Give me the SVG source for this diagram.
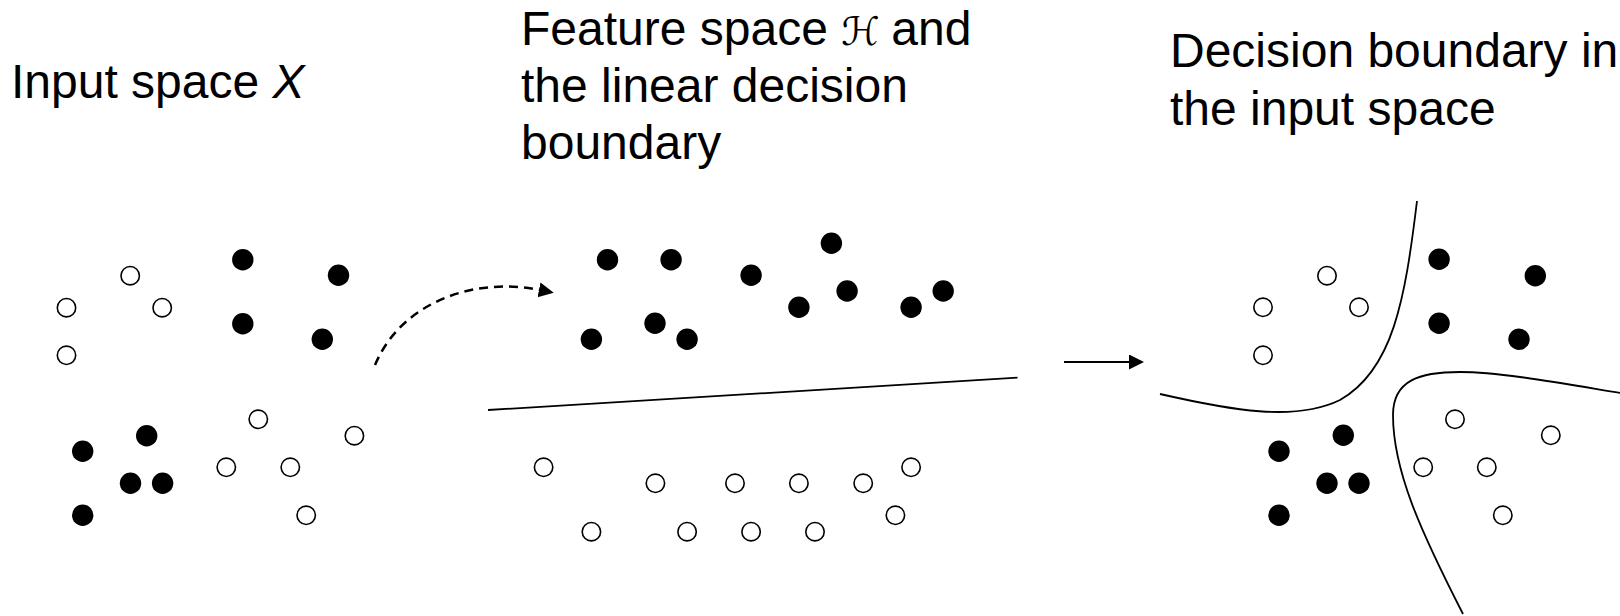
<svg xmlns="http://www.w3.org/2000/svg" width="1620" height="616" viewBox="0 0 1620 616">
  <style>
    .lbl { font-family: "Liberation Sans", Arial, sans-serif; font-size: 48px; fill: #000; }
    .o { fill: #fff; stroke: #000; stroke-width: 1.6; }
    .f { fill: #000; }
    .bnd { fill: none; stroke: #000; stroke-width: 1.8; }
    .conn { fill: none; stroke: #000; }
  </style>
  <defs>
    <marker id="ah" markerWidth="16" markerHeight="16" refX="1" refY="7.5" orient="auto" markerUnits="userSpaceOnUse" viewBox="0 0 16 16">
      <path d="M0,0 L15,7.5 L0,15 Z" fill="#000"/>
    </marker>
  </defs>
  <rect width="1620" height="616" fill="#fff"/>

  <g id="label-input">
    <text class="lbl" x="11" y="98">Input space <tspan font-style="italic">X</tspan></text>
  </g>
  <g id="label-feature">
    <text class="lbl" x="521" y="45">Feature space <tspan font-family="'DejaVu Sans', 'DejaVu Serif', sans-serif" font-style="italic" font-size="39">ℋ</tspan><tspan x="878"> and</tspan></text>
    <text class="lbl" x="521" y="102">the linear decision</text>
    <text class="lbl" x="521" y="159">boundary</text>
  </g>
  <g id="label-decision">
    <text class="lbl" x="1170" y="67">Decision boundary in</text>
    <text class="lbl" x="1170" y="125">the input space</text>
  </g>

  <g id="input-space">
    <circle class="o" cx="130.2" cy="275.7" r="9.2"/>
    <circle class="o" cx="66.5" cy="307.7" r="9.2"/>
    <circle class="o" cx="162.2" cy="307.7" r="9.2"/>
    <circle class="o" cx="66.5" cy="355.3" r="9.2"/>
    <circle class="o" cx="258.3" cy="419.3" r="9.2"/>
    <circle class="o" cx="354.4" cy="435.7" r="9.2"/>
    <circle class="o" cx="226.3" cy="467.3" r="9.2"/>
    <circle class="o" cx="290.3" cy="467.3" r="9.2"/>
    <circle class="o" cx="306.2" cy="515.3" r="9.2"/>
    <circle class="f" cx="242.8" cy="259.7" r="10.7"/>
    <circle class="f" cx="338.5" cy="275.3" r="10.7"/>
    <circle class="f" cx="242.8" cy="323.7" r="10.7"/>
    <circle class="f" cx="322.3" cy="339.3" r="10.7"/>
    <circle class="f" cx="146.7" cy="435.7" r="10.7"/>
    <circle class="f" cx="82.7" cy="451.3" r="10.7"/>
    <circle class="f" cx="130.5" cy="483.3" r="10.7"/>
    <circle class="f" cx="162.6" cy="483.3" r="10.7"/>
    <circle class="f" cx="82.7" cy="515.3" r="10.7"/>
  </g>

  <g id="feature-space">
    <circle class="f" cx="607.5" cy="259.7" r="10.7"/>
    <circle class="f" cx="671.1" cy="259.7" r="10.7"/>
    <circle class="f" cx="831.4" cy="243.3" r="10.7"/>
    <circle class="f" cx="751.1" cy="275.3" r="10.7"/>
    <circle class="f" cx="847.1" cy="291" r="10.7"/>
    <circle class="f" cx="943.2" cy="291" r="10.7"/>
    <circle class="f" cx="798.9" cy="307.3" r="10.7"/>
    <circle class="f" cx="911.1" cy="307.3" r="10.7"/>
    <circle class="f" cx="591.4" cy="339.3" r="10.7"/>
    <circle class="f" cx="655" cy="323.3" r="10.7"/>
    <circle class="f" cx="687.1" cy="339.3" r="10.7"/>
    <circle class="o" cx="543.6" cy="467.3" r="9.2"/>
    <circle class="o" cx="655.4" cy="483.3" r="9.2"/>
    <circle class="o" cx="735" cy="483.3" r="9.2"/>
    <circle class="o" cx="798.9" cy="483.3" r="9.2"/>
    <circle class="o" cx="863.2" cy="483.3" r="9.2"/>
    <circle class="o" cx="911.1" cy="467.3" r="9.2"/>
    <circle class="o" cx="895.4" cy="515.3" r="9.2"/>
    <circle class="o" cx="591.4" cy="531.7" r="9.2"/>
    <circle class="o" cx="687.1" cy="531.7" r="9.2"/>
    <circle class="o" cx="751.1" cy="531.7" r="9.2"/>
    <circle class="o" cx="815" cy="531.7" r="9.2"/>
  </g>
  <g id="linear-boundary">
    <line class="bnd" x1="488" y1="410" x2="1017.5" y2="377.7"/>
  </g>

  <g id="decision-space">
    <circle class="o" cx="1327" cy="275.7" r="9.2"/>
    <circle class="o" cx="1263" cy="307.3" r="9.2"/>
    <circle class="o" cx="1359" cy="307.3" r="9.2"/>
    <circle class="o" cx="1263" cy="355.3" r="9.2"/>
    <circle class="o" cx="1455" cy="419.3" r="9.2"/>
    <circle class="o" cx="1550.8" cy="435.3" r="9.2"/>
    <circle class="o" cx="1423.2" cy="467.3" r="9.2"/>
    <circle class="o" cx="1486.8" cy="467.3" r="9.2"/>
    <circle class="o" cx="1502.8" cy="515.3" r="9.2"/>
    <circle class="f" cx="1439.1" cy="259.3" r="10.7"/>
    <circle class="f" cx="1535.3" cy="275.7" r="10.7"/>
    <circle class="f" cx="1439.1" cy="323.3" r="10.7"/>
    <circle class="f" cx="1519" cy="339.3" r="10.7"/>
    <circle class="f" cx="1343.3" cy="435.3" r="10.7"/>
    <circle class="f" cx="1279" cy="451.3" r="10.7"/>
    <circle class="f" cx="1327" cy="483.3" r="10.7"/>
    <circle class="f" cx="1359" cy="483.3" r="10.7"/>
    <circle class="f" cx="1279" cy="515.3" r="10.7"/>
  </g>
  <g id="nonlinear-boundary">
    <path class="bnd" d="M1417,201 C1405,300 1393,370 1340,400 C1295,422 1230,410 1160,394"/>
    <path class="bnd" d="M1621,393 C1560,383 1500,372 1460,372 C1420,372 1393,380 1393,415 C1393,470 1420,530 1463,614"/>
  </g>

  <g id="connectors">
    <path class="conn" stroke-width="2.5" stroke-dasharray="9,6" d="M375,365 C400,305 470,276 540,290" marker-end="url(#ah)"/>
    <line class="conn" stroke-width="2" x1="1064" y1="362" x2="1130" y2="362" marker-end="url(#ah)"/>
  </g>
</svg>
